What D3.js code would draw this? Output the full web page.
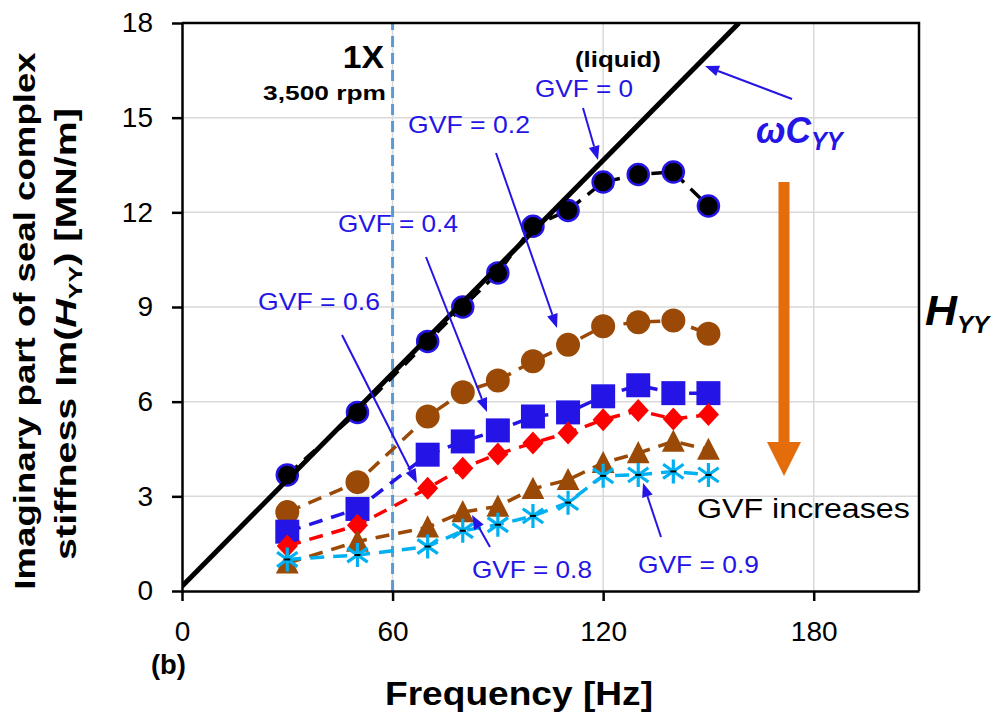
<!DOCTYPE html>
<html>
<head>
<meta charset="utf-8">
<script src="https://cdn.jsdelivr.net/npm/d3@7"></script>
<style>
  body { margin: 0; background: #fff; }
  svg { display: block; }
</style>
</head>
<body>
<svg id="chart" width="997" height="715"></svg>
<script>
// excitation frequencies [Hz]
const freqHz = [30, 50, 70, 80, 90, 100, 110, 120, 130, 140, 150];
// Im(H_YY) [MN/m] for each gas volume fraction
const gvf00 = [3.68, 5.66, 7.91, 9.0, 10.08, 11.56, 12.06, 12.96, 13.2, 13.28, 12.2];
const gvf02 = [2.5, 3.45, 5.53, 6.3, 6.67, 7.28, 7.8, 8.39, 8.52, 8.57, 8.15];
const gvf04 = [1.88, 2.6, 4.32, 4.74, 5.09, 5.53, 5.66, 6.17, 6.52, 6.27, 6.27];
const gvf06 = [1.43, 2.08, 3.26, 3.89, 4.34, 4.69, 5.01, 5.43, 5.72, 5.45, 5.59];
const gvf08 = [0.88, 1.57, 2.02, 2.5, 2.68, 3.24, 3.52, 4.06, 4.37, 4.74, 4.48];
const gvf09 = [1.0, 1.14, 1.41, 1.91, 2.1, 2.38, 2.8, 3.65, 3.68, 3.79, 3.68];
// omega*C_YY line for the liquid seal
const liquidFreq = [0, 158.7];
const liquidWC = [0.15, 18];
const runSpeedHz = 60;
const xTicks = [0, 60, 120, 180];
const yTicks = [0, 3, 6, 9, 12, 15, 18];

const FONT = "'Liberation Sans', Arial, sans-serif";
const BLUE = '#2414E6';
const BROWN = '#9A4A06';

const svg = d3.select('#chart');
const x = d3.scaleLinear().domain([0, 210]).range([182, 919]);
const y = d3.scaleLinear().domain([0, 18]).range([591, 23]);

// grid
svg.append('g').selectAll('line')
    .data(yTicks.filter(d => d > 0 && d < 18))
    .enter().append('line')
    .attr('x1', x(0)).attr('x2', x(210))
    .attr('y1', d => y(d)).attr('y2', d => y(d))
    .attr('stroke', '#d9d9d9').attr('stroke-width', 1.5);
svg.append('g').selectAll('line')
    .data(xTicks.filter(d => d > 0))
    .enter().append('line')
    .attr('x1', d => x(d)).attr('x2', d => x(d))
    .attr('y1', y(0)).attr('y2', y(18))
    .attr('stroke', '#d9d9d9').attr('stroke-width', 1.5);

// 1X running speed line
svg.append('line')
    .attr('x1', x(runSpeedHz)).attr('x2', x(runSpeedHz))
    .attr('y1', y(0)).attr('y2', y(18))
    .attr('stroke', '#5b9bd5').attr('stroke-width', 3)
    .attr('stroke-dasharray', '11,6');

// frame
svg.append('path')
    .attr('d', `M${x(0)},${y(18)}H${x(210)}V${y(0)}`)
    .attr('fill', 'none').attr('stroke', '#000').attr('stroke-width', 2.5);

// axes
const yAxis = svg.append('g')
    .attr('transform', `translate(${x(0)},0)`)
    .call(d3.axisLeft(y).tickValues(yTicks).tickSize(10).tickSizeOuter(0).tickPadding(19));
const xAxis = svg.append('g')
    .attr('transform', `translate(0,${y(0)})`)
    .call(d3.axisBottom(x).tickValues(xTicks).tickSize(10).tickSizeOuter(0).tickPadding(20));
[yAxis, xAxis].forEach(a => {
    a.select('.domain').attr('stroke', '#000').attr('stroke-width', 2.5);
    a.selectAll('.tick line').attr('stroke', '#000').attr('stroke-width', 2.5);
    a.selectAll('.tick text')
        .style('font-family', FONT).style('font-size', '28px').attr('fill', '#000');
});

// clip for data layer
svg.append('defs').append('clipPath').attr('id', 'plot-clip')
    .append('rect')
    .attr('x', x(0)).attr('y', y(18))
    .attr('width', x(210) - x(0)).attr('height', y(0) - y(18));

const series = [
    { vals: gvf00, color: '#000', shape: 'circle', fill: '#000', stroke: BLUE, r: 10.5 },
    { vals: gvf02, color: BROWN, shape: 'circle', fill: BROWN, r: 12 },
    { vals: gvf04, color: BLUE, shape: 'square', fill: BLUE, r: 12 },
    { vals: gvf06, color: '#ff0000', shape: 'diamond', fill: '#ff0000', r: 11.5 },
    { vals: gvf08, color: BROWN, shape: 'triangle', fill: BROWN, r: 12 },
    { vals: gvf09, color: '#00b0f0', shape: 'star', fill: 'none', r: 12 }
];

function markerPath(shape, r) {
    if (shape === 'circle') return d3.symbol(d3.symbolCircle, Math.PI * r * r)();
    if (shape === 'square') return `M${-r},${-r}H${r}V${r}H${-r}Z`;
    if (shape === 'diamond') return `M0,${-r}L${r * 0.92},0L0,${r}L${-r * 0.92},0Z`;
    if (shape === 'triangle') return `M0,${-r}L${r * 0.95},${r * 0.85}L${-r * 0.95},${r * 0.85}Z`;
    // asterisk: vertical stroke plus an X
    const d = r * 0.85;
    return `M0,${-r}V${r}M${-d},${-d * 0.7}L${d},${d * 0.7}M${-d},${d * 0.7}L${d},${-d * 0.7}`;
}

const line = d3.line().x(d => x(d[0])).y(d => y(d[1]));
const dataLayer = svg.append('g').attr('clip-path', 'url(#plot-clip)');

series.forEach(s => {
    const pts = freqHz.map((f, i) => [f, s.vals[i]]);
    dataLayer.append('path')
        .attr('d', line(pts))
        .attr('fill', 'none').attr('stroke', s.color)
        .attr('stroke-width', 3.5).attr('stroke-dasharray', '14,9');
    dataLayer.append('g').selectAll('path')
        .data(pts).enter().append('path')
        .attr('transform', d => `translate(${x(d[0])},${y(d[1])})`)
        .attr('d', markerPath(s.shape, s.r))
        .attr('fill', s.fill)
        .attr('stroke', s.shape === 'star' ? s.color : (s.stroke || 'none'))
        .attr('stroke-width', s.shape === 'star' ? 3.2 : 2.5);
    if (s.shape === 'star') {
        // small black error bar at each asterisk centre
        dataLayer.append('g').selectAll('line')
            .data(pts).enter().append('line')
            .attr('x1', d => x(d[0]) - 3).attr('x2', d => x(d[0]) + 3)
            .attr('y1', d => y(d[1])).attr('y2', d => y(d[1]))
            .attr('stroke', '#000').attr('stroke-width', 2);
    }
});

// liquid omega*C line
dataLayer.append('path')
    .attr('d', line(liquidFreq.map((f, i) => [f, liquidWC[i]])))
    .attr('stroke', '#000').attr('stroke-width', 5).attr('fill', 'none');

// arrows
function arrow(x1, y1, x2, y2, color, w, headL, headW) {
    const ang = Math.atan2(y2 - y1, x2 - x1);
    const bx = x2 - headL * Math.cos(ang), by = y2 - headL * Math.sin(ang);
    const px = -Math.sin(ang) * headW / 2, py = Math.cos(ang) * headW / 2;
    svg.append('line')
        .attr('x1', x1).attr('y1', y1).attr('x2', bx).attr('y2', by)
        .attr('stroke', color).attr('stroke-width', w);
    svg.append('path')
        .attr('d', `M${x2},${y2}L${bx + px},${by + py}L${bx - px},${by - py}Z`)
        .attr('fill', color);
}
arrow(583, 108, 598, 160, BLUE, 2, 14, 11);
arrow(792, 99, 705, 66, BLUE, 2, 14, 11);
arrow(496, 153, 557, 328, BLUE, 2, 14, 11);
arrow(426, 257, 487, 412, BLUE, 2, 14, 11);
arrow(342, 335, 417, 483, BLUE, 2, 14, 11);
arrow(490, 547, 472, 515, BLUE, 2, 14, 11);
arrow(661, 537, 643, 483, BLUE, 2, 14, 11);
arrow(784, 182, 784, 476, '#e46c0a', 11, 34, 34);

// text helper: parts = [{t, size, italic, dy}], stretched to width when given
function label(o) {
    const g = svg.append('g')
        .attr('transform', `translate(${o.x},${o.y})` + (o.rotate ? ` rotate(${o.rotate})` : ''));
    const t = g.append('text')
        .attr('text-anchor', o.anchor || 'start')
        .style('font-family', FONT)
        .style('font-size', o.size + 'px')
        .style('font-weight', o.bold ? 'bold' : 'normal')
        .style('font-style', o.italic ? 'italic' : 'normal')
        .attr('fill', o.color || '#000');
    (o.parts || [{ t: o.text }]).forEach(p => {
        const ts = t.append('tspan').text(p.t);
        if (p.size) ts.style('font-size', p.size + 'px');
        if (p.italic) ts.style('font-style', 'italic');
        if (p.dy) ts.attr('dy', p.dy);
    });
    if (o.width) {
        const w = t.node().getBBox().width;
        t.attr('transform', `scale(${o.width / w},1)`);
    }
    return t;
}

label({ x: 384, y: 68, anchor: 'end', size: 32, bold: true, text: '1X', width: 42 });
label({ x: 386, y: 100, anchor: 'end', size: 21, bold: true, text: '3,500 rpm', width: 123 });
label({ x: 575, y: 67, size: 22, bold: true, text: '(liquid)', width: 86 });
label({ x: 535, y: 97, size: 23, color: BLUE, text: 'GVF = 0', width: 98 });
label({ x: 408, y: 133, size: 24, color: BLUE, text: 'GVF = 0.2', width: 122 });
label({ x: 338, y: 232, size: 24, color: BLUE, text: 'GVF = 0.4', width: 120 });
label({ x: 258, y: 310, size: 24, color: BLUE, text: 'GVF = 0.6', width: 122 });
label({ x: 472, y: 578, size: 24, color: BLUE, text: 'GVF = 0.8', width: 120 });
label({ x: 638, y: 573, size: 24, color: BLUE, text: 'GVF = 0.9', width: 121 });
label({ x: 697, y: 518, size: 28, text: 'GVF increases', width: 213 });
label({ x: 756, y: 143, size: 37, bold: true, italic: true, color: BLUE, width: 89,
        parts: [{ t: '\u03c9C' }, { t: 'YY', size: 25, dy: 7 }] });
label({ x: 925, y: 325, size: 42, bold: true, italic: true, width: 67,
        parts: [{ t: 'H' }, { t: 'YY', size: 23, dy: 8 }] });
label({ x: 151, y: 674, size: 27, bold: true, text: '(b)', width: 35 });
label({ x: 519, y: 705, anchor: 'middle', size: 33, bold: true, text: 'Frequency [Hz]', width: 268 });
label({ x: 35, y: 321, rotate: -90, anchor: 'middle', size: 30, bold: true,
        text: 'Imaginary part of seal complex', width: 538 });
label({ x: 76, y: 334, rotate: -90, anchor: 'middle', size: 30, bold: true, width: 452,
        parts: [{ t: 'stiffness Im(' }, { t: 'H', italic: true }, { t: 'YY', size: 19, dy: 6 },
                { t: ') [MN/m]', dy: -6 }] });
</script>
</body>
</html>
